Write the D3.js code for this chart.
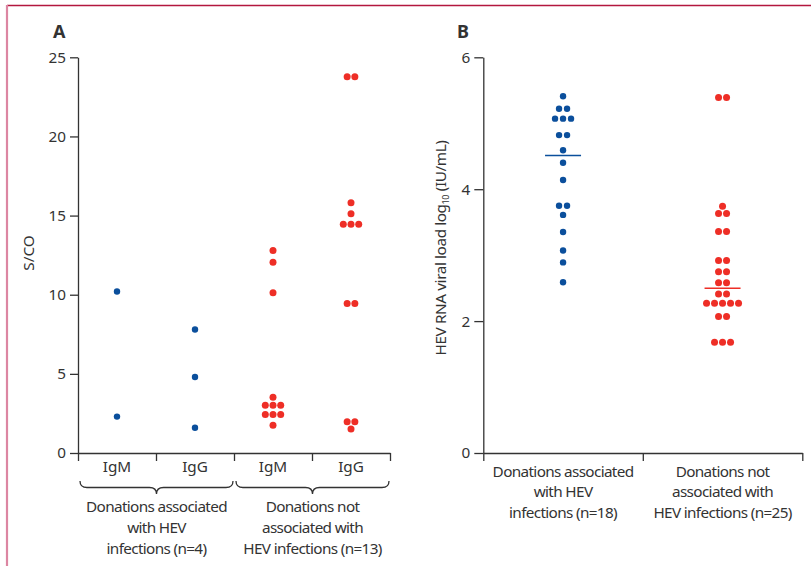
<!DOCTYPE html>
<html>
<head>
<meta charset="utf-8">
<script src="https://cdn.jsdelivr.net/npm/d3@7"></script>
<style>
  body { margin: 0; background: #fff; }
  text { font-family: "Noto Sans", sans-serif; fill: #333; white-space: pre; }
</style>
</head>
<body>
<svg id="chart" width="811" height="566"></svg>
<script>
// panel A: antibody S/CO per donation group
var catsA = ['IgM', 'IgG', 'IgM', 'IgG'];
var bracesA = [
  ['Donations associated', 'with HEV', 'infections (n=4)'],
  ['Donations not', 'associated with', 'HEV infections (n=13)']
];
var valuesA = [
  [10.2, 2.3],
  [7.8, 4.8, 1.6],
  [12.8, 12.05, 10.13, 3.52, 3.01, 3.01, 3.01, 2.44, 2.44, 2.44, 1.75],
  [23.77, 23.77, 15.81, 15.12, 14.45, 14.45, 14.45, 9.45, 9.45, 1.98, 1.98, 1.52]
];
var ticksA = [0, 5, 10, 15, 20, 25];

// panel B: viral load
var catsB = [
  ['Donations associated', 'with HEV', 'infections (n=18)'],
  ['Donations not', 'associated with', 'HEV infections (n=25)']
];
var valuesB = [
  [5.41, 5.22, 5.22, 5.07, 5.07, 5.07, 4.82, 4.82, 4.59, 4.40, 4.14, 3.75, 3.75, 3.61, 3.35, 3.07, 2.89, 2.59],
  [5.39, 5.39, 3.74, 3.63, 3.63, 3.36, 3.36, 2.92, 2.92, 2.75, 2.75, 2.58, 2.58, 2.41, 2.41,
   2.27, 2.27, 2.27, 2.27, 2.27, 2.07, 2.07, 1.68, 1.68, 1.68]
];
var mediansB = [4.51, 2.50];
var ticksB = [0, 2, 4, 6];

var colors = ['#0b4f9c', '#ee2e26'];
var svg = d3.select('#chart');
var fs = 15.3;

// frame
svg.append('line').attr('x1', 7).attr('x2', 811).attr('y1', 5.5).attr('y2', 5.5)
  .attr('stroke', '#b3173f').attr('stroke-width', 1.4);
svg.append('line').attr('x1', 7).attr('x2', 7).attr('y1', 5).attr('y2', 566)
  .attr('stroke', '#dc86a2').attr('stroke-width', 2.2);

//spread equal values sideways like a dot plot
function swarm(vals, spacing) {
  var out = [], counts = d3.rollup(vals, function (v) { return v.length; }, function (d) { return d; });
  var seen = new Map();
  vals.forEach(function (v) {
    var n = counts.get(v), k = seen.get(v) || 0;
    seen.set(v, k + 1);
    out.push({ v: v, dx: (k - (n - 1) / 2) * spacing });
  });
  return out;
}

function styleAxis(g) {
  g.selectAll('path.domain').attr('stroke', '#333').attr('stroke-width', 1.3);
  g.selectAll('.tick line').attr('stroke', '#333').attr('stroke-width', 1.3);
  g.selectAll('.tick text').attr('font-size', fs).attr('fill', '#333')
    .attr('font-family', '"Noto Sans", sans-serif');
}

// ---------- panel A ----------
var yA = d3.scaleLinear().domain([0, 25]).range([453, 57.3]);
var edgeA = d3.scaleLinear().domain([0, catsA.length]).range([78, 390]);
var bandA = d3.scaleBand().domain(d3.range(catsA.length)).range([78, 390]);

var gA = svg.append('g');
gA.append('g').attr('transform', 'translate(78,0)')
  .call(d3.axisLeft(yA).tickValues(ticksA).tickFormat(d3.format('d')).tickSize(8).tickSizeOuter(0).tickPadding(4))
  .call(styleAxis);
gA.append('g').attr('transform', 'translate(0,453)')
  .call(d3.axisBottom(edgeA).tickValues(d3.range(catsA.length + 1)).tickFormat('').tickSize(8).tickSizeOuter(0))
  .call(styleAxis);

gA.selectAll('.catA').data(catsA).enter().append('text')
  .attr('x', function (d, i) { return bandA(i) + bandA.bandwidth() / 2; })
  .attr('y', 472).attr('text-anchor', 'middle').attr('font-size', fs)
  .text(function (d) { return d; });

valuesA.forEach(function (vals, i) {
  gA.selectAll(null).data(swarm(vals, 7.7)).enter().append('circle')
    .attr('cx', function (d) { return bandA(i) + bandA.bandwidth() / 2 + d.dx; })
    .attr('cy', function (d) { return yA(d.v); })
    .attr('r', i < 2 ? 3.2 : 3.5)
    .attr('fill', colors[i < 2 ? 0 : 1]);
});

// braces under pairs of columns
bracesA.forEach(function (lines, j) {
  var x0 = edgeA(j * 2) + 2, x1 = edgeA(j * 2 + 2) - 1, mid = (x0 + x1) / 2;
  var y0 = 481, y1 = 487.5, y2 = 494, q = 7;
  var p = 'M' + x0 + ',' + y0 + ' Q' + x0 + ',' + y1 + ' ' + (x0 + q) + ',' + y1 +
    ' L' + (mid - q) + ',' + y1 + ' Q' + mid + ',' + y1 + ' ' + mid + ',' + y2 +
    ' Q' + mid + ',' + y1 + ' ' + (mid + q) + ',' + y1 +
    ' L' + (x1 - q) + ',' + y1 + ' Q' + x1 + ',' + y1 + ' ' + x1 + ',' + y0;
  gA.append('path').attr('d', p).attr('fill', 'none').attr('stroke', '#333').attr('stroke-width', 1.3);
  lines.forEach(function (t, k) {
    gA.append('text').attr('x', mid).attr('y', 511.5 + k * 21.3)
      .attr('text-anchor', 'middle').attr('font-size', fs).attr('letter-spacing', -0.65).text(t);
  });
});

gA.append('text').attr('transform', 'translate(34,253) rotate(-90)')
  .attr('text-anchor', 'middle').attr('font-size', fs).text('S/CO');
gA.append('text').attr('x', 53).attr('y', 38).attr('font-size', 18).attr('font-weight', 'bold')
  .attr('fill', '#222').text('A');

// ---------- panel B ----------
var yB = d3.scaleLinear().domain([0, 6]).range([453, 57.3]);
var edgeB = d3.scaleLinear().domain([0, catsB.length]).range([483.3, 802.3]);
var bandB = d3.scaleBand().domain(d3.range(catsB.length)).range([483.3, 802.3]);

var gB = svg.append('g');
gB.append('g').attr('transform', 'translate(483.3,0)')
  .call(d3.axisLeft(yB).tickValues(ticksB).tickFormat(d3.format('d')).tickSize(9).tickSizeOuter(0).tickPadding(4))
  .call(styleAxis);
gB.append('g').attr('transform', 'translate(0,453)')
  .call(d3.axisBottom(edgeB).tickValues(d3.range(catsB.length + 1)).tickFormat('').tickSize(8).tickSizeOuter(0))
  .call(styleAxis);

catsB.forEach(function (lines, i) {
  lines.forEach(function (t, k) {
    gB.append('text').attr('x', bandB(i) + bandB.bandwidth() / 2).attr('y', 476.5 + k * 20.5)
      .attr('text-anchor', 'middle').attr('font-size', fs).attr('letter-spacing', -0.65).text(t);
  });
});

valuesB.forEach(function (vals, i) {
  var cx = bandB(i) + bandB.bandwidth() / 2;
  gB.selectAll(null).data(swarm(vals, 8)).enter().append('circle')
    .attr('cx', function (d) { return cx + d.dx; })
    .attr('cy', function (d) { return yB(d.v); })
    .attr('r', i === 0 ? 3.2 : 3.5)
    .attr('fill', colors[i]);
  gB.append('line').attr('x1', cx - 18).attr('x2', cx + 18)
    .attr('y1', yB(mediansB[i])).attr('y2', yB(mediansB[i]))
    .attr('stroke', colors[i]).attr('stroke-width', 1.5);
});

var yLab = gB.append('text').attr('transform', 'translate(446,248) rotate(-90)')
  .attr('text-anchor', 'middle').attr('font-size', fs).attr('letter-spacing', -0.4);
yLab.append('tspan').text('HEV RNA viral load log');
yLab.append('tspan').attr('font-size', 9).attr('dy', 3).text('10');
yLab.append('tspan').attr('dy', -3).text('\u00a0(IU/mL)');

gB.append('text').attr('x', 457).attr('y', 38).attr('font-size', 18).attr('font-weight', 'bold')
  .attr('fill', '#222').text('B');
</script>
</body>
</html>
